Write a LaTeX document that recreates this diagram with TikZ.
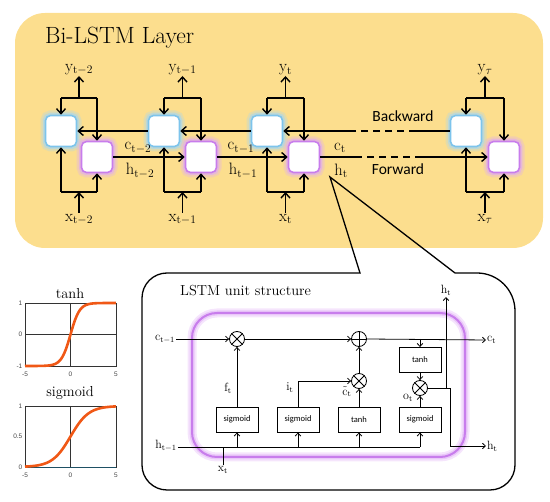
\documentclass[tikz,border=0pt]{standalone}
\usepackage{fontspec}
\newfontfamily\carlito{Carlito}
\newfontfamily\arialf{Liberation Sans}
\usetikzlibrary{arrows.meta,calc}
\definecolor{bgyellow}{RGB}{252,222,142}
\definecolor{bluebd}{RGB}{125,196,236}
\definecolor{blueglow}{RGB}{165,214,242}
\definecolor{purpbd}{RGB}{200,125,236}
\definecolor{purpglow}{RGB}{222,170,246}
\definecolor{curvecol}{RGB}{240,88,22}
\definecolor{axisteal}{RGB}{30,80,100}
\definecolor{tickgray}{RGB}{70,70,70}
\begin{document}
\begin{tikzpicture}[x=1pt,y=-1pt,
  line/.style={line width=1.4pt},
  arr/.style={line width=1.4pt,-{Straight Barb[length=5pt,width=9pt]}},
  sline/.style={line width=0.8pt},
  sarr/.style={line width=0.8pt,-{Straight Barb[length=3pt,width=5.5pt]}},
  cell/.style={minimum width=31pt,minimum height=31pt,rounded corners=5pt,fill=white,inner sep=0},
  bcell/.style={cell,draw=bluebd,line width=1.6pt,
     preaction={draw=blueglow,draw opacity=0.3,line width=10pt},
     preaction={draw=blueglow,draw opacity=0.6,line width=5.5pt}},
  pcell/.style={cell,draw=purpbd,line width=1.6pt,
     preaction={draw=purpglow,draw opacity=0.3,line width=10pt},
     preaction={draw=purpglow,draw opacity=0.6,line width=5.5pt}},
  lab/.style={inner sep=1pt,font=\fontsize{16.5}{18}\selectfont},
  slab/.style={inner sep=1pt,font=\fontsize{12}{13}\selectfont},
  word/.style={inner sep=0pt,font=\carlito\fontsize{15.5}{17}\selectfont},
  op/.style={circle,draw,line width=0.8pt,minimum size=15pt,inner sep=0,fill=white},
  gate/.style={draw,line width=0.9pt,minimum width=42pt,minimum height=25pt,inner sep=0,
     fill=white,font=\carlito\fontsize{8.5}{10}\selectfont},
  frame/.style={line width=0.6pt,draw=black!80},
  curvestyle/.style={line width=2.6pt,curvecol},
  tick/.style={inner sep=0.5pt,text=tickgray,font=\arialf\fontsize{6.5}{7}\selectfont},
  ptitle/.style={inner sep=0pt,font=\fontsize{14.5}{16}\selectfont}
]
\useasboundingbox (0,0) rectangle (550,502);

% ---------------- Bi-LSTM layer ----------------
\fill[bgyellow,rounded corners=30pt] (15,13) rectangle (543,248);
\node[anchor=base west,inner sep=0,font=\fontsize{23.5}{27}\selectfont] (title) at (45,44) {Bi-LSTM Layer};

\foreach \i/\bx/\px/\s in {1/61/97/t-2, 2/164/201/t-1, 3/267/304/t, 4/466/504/\tau}{
  \pgfmathsetmacro\mx{(\bx+\px)/2}
  \node[bcell] (b\i) at (\bx,131) {};
  \node[pcell] (p\i) at (\px,157) {};
  \coordinate (ol\i) at (\bx,98);
  \coordinate (or\i) at (\px,98);
  \coordinate (om\i) at (\mx,98);
  \coordinate (il\i) at (\bx,192);
  \coordinate (ir\i) at (\px,192);
  \coordinate (im\i) at (\mx,192);
  \node[lab,anchor=south] (y\i) at (\mx,76) {$\mathrm{y}_{\mathrm{\s}}$};
  \node[lab,anchor=north] (x\i) at (\mx,213) {$\mathrm{x}_{\mathrm{\s}}$};
  \draw[line] (ol\i) -- (or\i);
  \draw[arr] (om\i) -- (y\i.south);
  \draw[arr] (ol\i) -- (b\i.north);
  \draw[arr] (or\i) -- (p\i.north);
  \draw[line] (il\i) -- (ir\i);
  \draw[arr] (x\i.north) -- (im\i);
  \draw[arr] (il\i) -- (b\i.south);
  \draw[arr] (ir\i) -- (p\i.south);
}

\draw[arr] (b2.west) -- (b1.east);
\draw[arr] (b3.west) -- (b2.east);
\draw[arr] (p1.east) -- (p2.west);
\draw[arr] (p2.east) -- (p3.west);

\coordinate (bk1) at (355,131);
\coordinate (bk2) at (416,131);
\coordinate (fw1) at (355,157);
\coordinate (fw2) at (416,157);
\draw[line] (b4.west) -- (bk2);
\draw[line,dash pattern=on 7pt off 5pt] (bk2) -- (bk1);
\draw[arr] (bk1) -- (b3.east);
\draw[line] (p3.east) -- (fw1);
\draw[line,dash pattern=on 7pt off 5pt] (fw1) -- (fw2);
\draw[arr] (fw2) -- (p4.west);

\node[lab] (c1) at (138,148) {$\mathrm{c}_{\mathrm{t-2}}$};
\node[lab] (h1) at (140,171) {$\mathrm{h}_{\mathrm{t-2}}$};
\node[lab] (c2) at (241,148) {$\mathrm{c}_{\mathrm{t-1}}$};
\node[lab] (h2) at (243,171) {$\mathrm{h}_{\mathrm{t-1}}$};
\node[lab] (c3) at (340,148) {$\mathrm{c}_{\mathrm{t}}$};
\node[lab] (h3) at (341,171) {$\mathrm{h}_{\mathrm{t}}$};
\node[word] (bw) at (403,116) {Backward};
\node[word] (fwl) at (398,169) {Forward};

% ---------------- call-out ----------------
\coordinate (tip) at (330,177);
\draw[line width=1.3pt] (250,273) -- (360,273) -- (tip) -- (455,273) -- (470,273)
   [rounded corners=38pt] -- (515,273) [rounded corners=25pt] -- (515,490) -- (142,490) -- (142,273) -- cycle;
\node[anchor=base west,inner sep=0,font=\fontsize{14.5}{16}\selectfont] (ltitle) at (180,296) {LSTM unit structure};

% ---------------- LSTM unit ----------------
\draw[purpbd,line width=2pt,rounded corners=25pt,
   preaction={draw=purpglow,line width=9pt,draw opacity=0.3},
   preaction={draw=purpglow,line width=5pt,draw opacity=0.5}] (192,313) rectangle (465,457);

\node[op] (m1) at (237,339) {};
\node[op] (a1) at (359,339) {};
\node[op] (m2) at (359,381) {};
\node[op] (m3) at (420,388) {};
\foreach \n in {m1,m2,m3}{
  \draw[sline] (\n.north east) -- (\n.south west) (\n.north west) -- (\n.south east);
}
\draw[sline] (a1.north) -- (a1.south) (a1.west) -- (a1.east);

\node[gate] (g1) at (237,419.5) {sigmoid};
\node[gate] (g2) at (298,419.5) {sigmoid};
\node[gate] (g3) at (359,419.5) {tanh};
\node[gate] (g5) at (420,419.5) {sigmoid};
\node[gate] (g4) at (420,360) {tanh};

\node[slab] (cin) at (165,339) {$\mathrm{c}_{\mathrm{t-1}}$};
\node[slab,anchor=west] (cout) at (486,340) {$\mathrm{c}_{\mathrm{t}}$};
\node[slab] (hin) at (166,446) {$\mathrm{h}_{\mathrm{t-1}}$};
\node[slab,anchor=west] (hout) at (486,446) {$\mathrm{h}_{\mathrm{t}}$};
\node[slab,anchor=south] (hup) at (446,297) {$\mathrm{h}_{\mathrm{t}}$};
\node[slab,anchor=north] (xin) at (223,465) {$\mathrm{x}_{\mathrm{t}}$};
\node[slab] (ft) at (228,388) {$\mathrm{f}_{\mathrm{t}}$};
\node[slab] (it) at (290,388) {$\mathrm{i}_{\mathrm{t}}$};
\node[slab] (ctl) at (347,392) {$\tilde{\mathrm{c}}_{\mathrm{t}}$};
\node[slab] (ot) at (408,398) {$\mathrm{o}_{\mathrm{t}}$};

\draw[sarr] (cin.east) -- (m1.west);
\draw[sarr] (m1.east) -- (a1.west);
\draw[sarr] (a1.east) -- (cout.west);
\coordinate (cdrop) at (420,339);
\draw[sarr] (cdrop) -- (g4.north);
\draw[sarr] (g4.south) -- (m3.north);
\draw[sarr] (g5.north) -- (m3.south);
\draw[sarr] (g1.north) -- (m1.south);
\draw[sarr] (g2.north) |- (m2.west);
\draw[sarr] (g3.north) -- (m2.south);
\draw[sarr] (m2.north) -- (a1.south);

\coordinate (hl) at (166,447);
\coordinate (hturn) at (450,388);
\coordinate (hupb) at (446,388);
\draw[sarr] (m3.east) -- (hturn) |- (hout.west);
\draw[sarr] (hupb) -- (hup.south);
\draw[sline] (hin.east |- hl) -- (g5.south |- hl);
\foreach \g in {g1,g2,g3,g5}{
  \draw[sarr] (\g.south |- hl) -- (\g.south);
}
\draw[sline] (xin.north) -- (xin.north |- hl);

% ---------------- activation plots ----------------
\node[ptitle] (tt) at (70,294) {tanh};
\draw[frame] (25,303) rectangle (116,366);
\draw[frame] (70.5,303) -- (70.5,366) (25,334.5) -- (116,334.5);
\draw[curvestyle] plot[domain=-5:5,samples=100,smooth] ({70.5+9.1*\x},{334.5-31.5*tanh(\x)});
\node[tick,anchor=east] at (23,303) {1};
\node[tick,anchor=east] at (23,334.5) {0};
\node[tick,anchor=east] at (23,366) {-1};
\node[tick] at (25,374) {-5};
\node[tick] at (70.5,374) {0};
\node[tick] at (116,374) {5};

\node[ptitle] (st) at (70,393) {sigmoid};
\draw[frame] (25,406) rectangle (116,467);
\draw[frame] (70.5,406) -- (70.5,467);
\draw[line width=0.9pt,axisteal] (25,467) -- (116,467);
\draw[curvestyle] plot[domain=-5:5,samples=100,smooth] ({70.5+9.1*\x},{467-61/(1+exp(-\x))});
\node[tick,anchor=east] at (23,406) {1};
\node[tick,anchor=east] at (23,436.5) {0.5};
\node[tick,anchor=east] at (23,467) {0};
\node[tick] at (25,475) {-5};
\node[tick] at (70.5,475) {0};
\node[tick] at (116,475) {5};
\end{tikzpicture}
\end{document}
